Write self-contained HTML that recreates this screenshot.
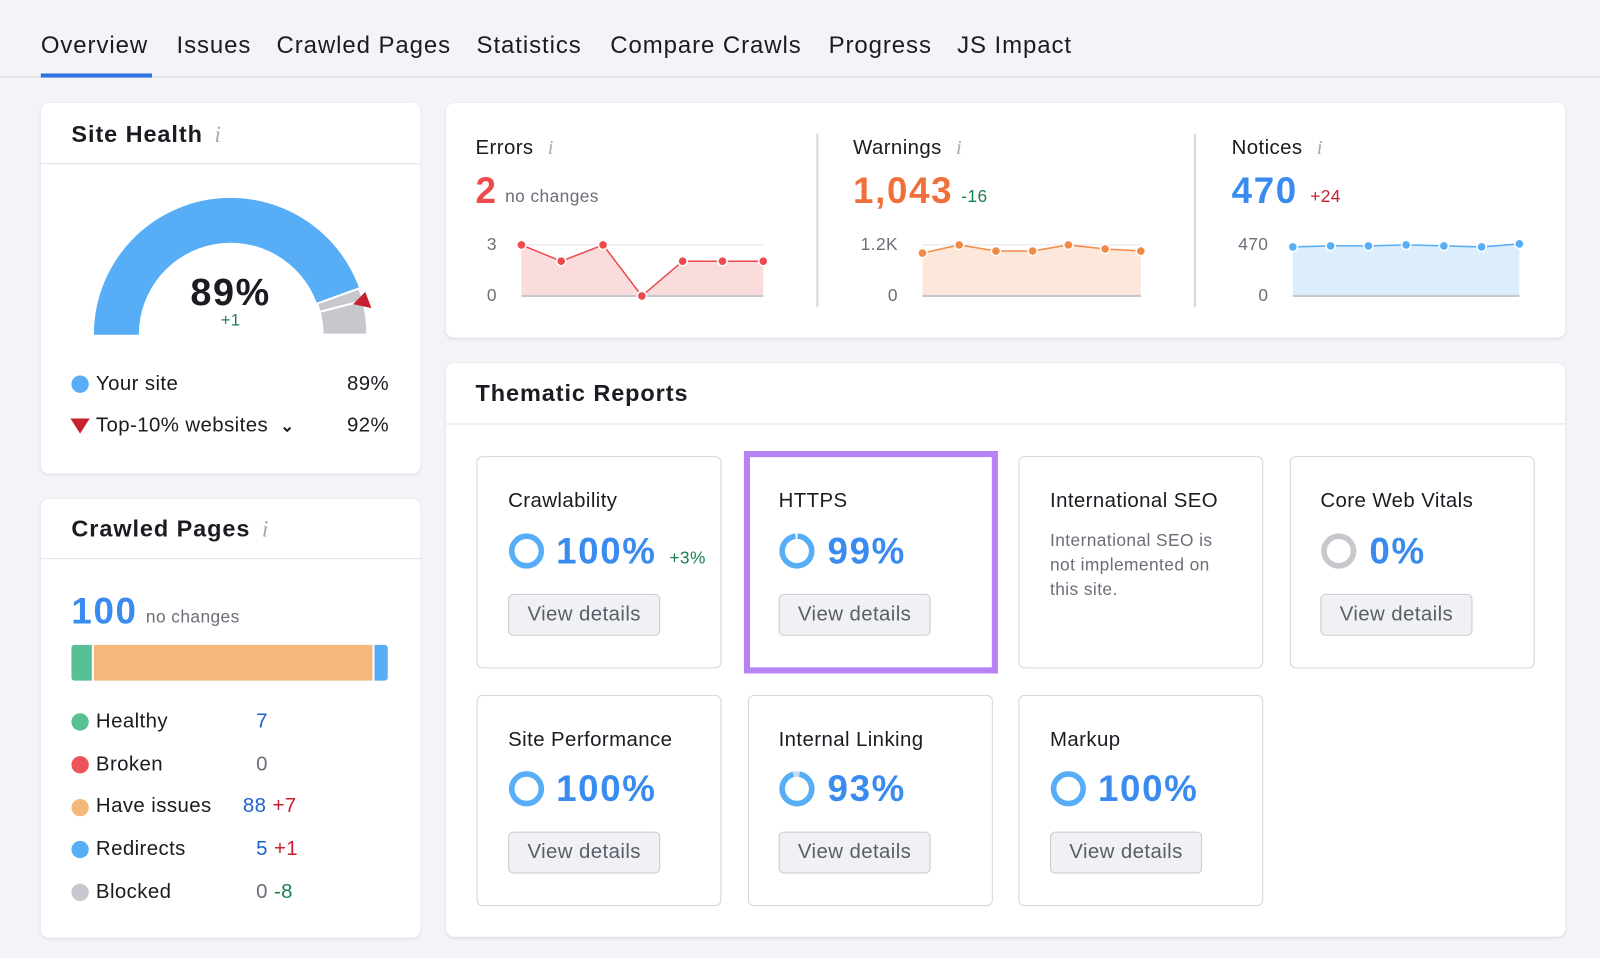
<!DOCTYPE html>
<html><head><meta charset="utf-8">
<style>
html,body{margin:0;padding:0;background:#f3f4f8;width:1600px;height:958px;overflow:hidden}
#w{position:absolute;left:0;top:0;width:1568px;height:939px;transform:scale(1.020408);transform-origin:0 0;font-family:"Liberation Sans",sans-serif;color:#1b1c22;letter-spacing:0.4px}
.a{position:absolute;white-space:nowrap;line-height:1}
.card{position:absolute;background:#fff;border-radius:8px;box-shadow:0 1px 3px rgba(0,0,0,.10)}
.hl{position:absolute;height:1px;background:#e0e1e6}
.info{color:#a7a9b3;font-style:italic;font-family:"Liberation Serif",serif}
.tc{position:absolute;background:#fff;border:1.5px solid #d4d6dc;border-radius:6px;box-sizing:border-box}
.btn{position:absolute;border:1.5px solid #c9cbd2;background:#f0f1f4;border-radius:5px;color:#5b5e69;font-size:20px;box-sizing:border-box;text-align:center;line-height:38px;width:149px;height:41px}
.dot{position:absolute;width:17px;height:17px;border-radius:50%}
.t{font-size:23px;font-weight:bold;letter-spacing:0.9px}
.big{font-size:36px;font-weight:bold;letter-spacing:1.6px}
.tab{font-size:23.5px;letter-spacing:0.9px;top:33px}
</style></head><body><div id="w">
<!-- tabs -->
<div class="a tab" style="left:40px">Overview</div>
<div class="a tab" style="left:173px">Issues</div>
<div class="a tab" style="left:271px">Crawled Pages</div>
<div class="a tab" style="left:467px">Statistics</div>
<div class="a tab" style="left:598px">Compare Crawls</div>
<div class="a tab" style="left:812px">Progress</div>
<div class="a tab" style="left:938px">JS Impact</div>
<div style="position:absolute;left:0;top:75px;width:1568px;height:1px;background:#d6d8de"></div>
<div style="position:absolute;left:40px;top:72px;width:109px;height:4px;background:#2f73e0"></div>

<!-- Site health -->
<div class="card" style="left:40px;top:101px;width:372px;height:363px"></div>
<div class="a t" style="left:70px;top:120px">Site Health <span class="info" style="font-weight:normal;margin-left:4px">i</span></div>
<div class="hl" style="left:40px;top:160px;width:372px"></div>
<svg style="position:absolute;left:0;top:0" width="420" height="470">
<path d="M92 328 A134 134 0 0 1 352.1 282.6 L310.7 297.5 A90 90 0 0 0 136 328 Z" fill="#58aef6"/>
<path d="M352.1 282.6 A134 134 0 0 1 355.8 294.7 L313.2 305.6 A90 90 0 0 0 310.7 297.5 Z" fill="#c6c8ce" stroke="#fff" stroke-width="2"/>
<path d="M355.8 294.7 A134 134 0 0 1 360 328 L316 328 A90 90 0 0 0 313.2 305.6 Z" fill="#c6c8ce" stroke="#fff" stroke-width="2"/>
<polygon points="346,298 358,286 364,302" fill="#c8202f"/>
</svg>
<div class="a big" style="left:0;width:452px;text-align:center;top:268px;font-size:37px">89%</div>
<div class="a" style="left:0;width:452px;text-align:center;top:307px;font-size:16px;color:#1a7f4e">+1</div>
<div class="dot" style="left:70px;top:368px;background:#58aef6"></div>
<div class="a" style="left:94px;top:366px;font-size:20px">Your site</div>
<div class="a" style="left:340px;top:366px;font-size:20px">89%</div>
<svg style="position:absolute;left:69px;top:410px" width="20" height="16"><polygon points="0,0 19,0 9.5,15" fill="#c8202f"/></svg>
<div class="a" style="left:94px;top:407px;font-size:20px">Top-10% websites <span style="font-size:16px;font-weight:bold;margin-left:6px">&#8964;</span></div>
<div class="a" style="left:340px;top:407px;font-size:20px">92%</div>

<!-- Crawled pages -->
<div class="card" style="left:40px;top:489px;width:372px;height:430px"></div>
<div class="a t" style="left:70px;top:507px">Crawled Pages <span class="info" style="font-weight:normal;margin-left:4px">i</span></div>
<div class="hl" style="left:40px;top:547px;width:372px"></div>
<div class="a big" style="left:70px;top:581px;color:#3a8bef">100</div>
<div class="a" style="left:143px;top:596px;font-size:17px;color:#6b6e78">no changes</div>
<div style="position:absolute;left:70px;top:632px;width:20px;height:35px;background:#58c095;border-radius:3px 0 0 3px"></div>
<div style="position:absolute;left:92px;top:632px;width:273px;height:35px;background:#f4b87a"></div>
<div style="position:absolute;left:367px;top:632px;width:13px;height:35px;background:#58aef6;border-radius:0 3px 3px 0"></div>
<div class="dot" style="left:70px;top:699px;background:#58c095"></div><div class="a" style="left:94px;top:697px;font-size:20px">Healthy</div><div class="a" style="left:251px;top:697px;font-size:20px;color:#1e63c8">7</div>
<div class="dot" style="left:70px;top:741px;background:#ec5459"></div><div class="a" style="left:94px;top:739px;font-size:20px">Broken</div><div class="a" style="left:251px;top:739px;font-size:20px;color:#6b6e78">0</div>
<div class="dot" style="left:70px;top:783px;background:#f4b87a"></div><div class="a" style="left:94px;top:780px;font-size:20px">Have issues</div><div class="a" style="left:238px;top:780px;font-size:20px;color:#1e63c8">88 <span style="color:#c8202f">+7</span></div>
<div class="dot" style="left:70px;top:824px;background:#58aef6"></div><div class="a" style="left:94px;top:822px;font-size:20px">Redirects</div><div class="a" style="left:251px;top:822px;font-size:20px;color:#1e63c8">5 <span style="color:#c8202f">+1</span></div>
<div class="dot" style="left:70px;top:866px;background:#c6c8ce"></div><div class="a" style="left:94px;top:864px;font-size:20px">Blocked</div><div class="a" style="left:251px;top:864px;font-size:20px;color:#6b6e78">0 <span style="color:#1a7f4e">-8</span></div>

<!-- Issues card -->
<div class="card" style="left:437px;top:101px;width:1097px;height:230px"></div>
<div style="position:absolute;left:800px;top:131px;width:2px;height:170px;background:#d6d8de"></div>
<div style="position:absolute;left:1170px;top:131px;width:2px;height:170px;background:#d6d8de"></div>
<div class="a" style="left:466px;top:135px;font-size:20px">Errors <span class="info" style="margin-left:8px">i</span></div>
<div class="a big" style="left:466px;top:169px;color:#ec4a4f">2</div>
<div class="a" style="left:495px;top:184px;font-size:17px;color:#6b6e78">no changes</div>
<div class="a" style="left:836px;top:135px;font-size:20px">Warnings <span class="info" style="margin-left:8px">i</span></div>
<div class="a big" style="left:836px;top:169px;color:#f0703a">1,043</div>
<div class="a" style="left:942px;top:184px;font-size:17px;color:#1a7f4e">-16</div>
<div class="a" style="left:1207px;top:135px;font-size:20px">Notices <span class="info" style="margin-left:8px">i</span></div>
<div class="a big" style="left:1207px;top:169px;color:#3a8bef">470</div>
<div class="a" style="left:1284px;top:184px;font-size:17px;color:#c8202f">+24</div>
<svg style="position:absolute;left:0;top:0" width="1568" height="330" font-family="Liberation Sans" font-size="17" fill="#6b6e78">
<text x="487" y="245" text-anchor="end">3</text><text x="487" y="295" text-anchor="end">0</text>
<line x1="511" y1="240" x2="748" y2="240" stroke="#e2e3e8"/>
<polygon points="511,240 550,256 591,240 629,290 669,256 708,256 748,256 748,290 511,290" fill="#fbdcdc"/>
<line x1="511" y1="290" x2="748" y2="290" stroke="#c6c8ce" stroke-width="2"/>
<polyline points="511,240 550,256 591,240 629,290 669,256 708,256 748,256" fill="none" stroke="#ec4a4f" stroke-width="1.5"/>
<g fill="#ec4a4f" stroke="#fff" stroke-width="1.5"><circle cx="511" cy="240" r="4.5"/><circle cx="550" cy="256" r="4.5"/><circle cx="591" cy="240" r="4.5"/><circle cx="629" cy="290" r="4.5"/><circle cx="669" cy="256" r="4.5"/><circle cx="708" cy="256" r="4.5"/><circle cx="748" cy="256" r="4.5"/></g>
<text x="880" y="245" text-anchor="end">1.2K</text><text x="880" y="295" text-anchor="end">0</text>
<line x1="904" y1="240" x2="1118" y2="240" stroke="#e2e3e8"/>
<polygon points="904,248 940,240 976,246 1012,246 1047,240 1083,244 1118,246 1118,290 904,290" fill="#fce7da"/>
<line x1="904" y1="290" x2="1118" y2="290" stroke="#c6c8ce" stroke-width="2"/>
<polyline points="904,248 940,240 976,246 1012,246 1047,240 1083,244 1118,246" fill="none" stroke="#f28a45" stroke-width="1.5"/>
<g fill="#f28a45" stroke="#fff" stroke-width="1.5"><circle cx="904" cy="248" r="4.5"/><circle cx="940" cy="240" r="4.5"/><circle cx="976" cy="246" r="4.5"/><circle cx="1012" cy="246" r="4.5"/><circle cx="1047" cy="240" r="4.5"/><circle cx="1083" cy="244" r="4.5"/><circle cx="1118" cy="246" r="4.5"/></g>
<text x="1243" y="245" text-anchor="end">470</text><text x="1243" y="295" text-anchor="end">0</text>
<polygon points="1267,242 1304,241 1341,241 1378,240 1415,241 1452,242 1489,239 1489,290 1267,290" fill="#dcedfc"/>
<line x1="1267" y1="290" x2="1489" y2="290" stroke="#c6c8ce" stroke-width="2"/>
<polyline points="1267,242 1304,241 1341,241 1378,240 1415,241 1452,242 1489,239" fill="none" stroke="#58aef6" stroke-width="1.5"/>
<g fill="#58aef6" stroke="#fff" stroke-width="1.5"><circle cx="1267" cy="242" r="4.5"/><circle cx="1304" cy="241" r="4.5"/><circle cx="1341" cy="241" r="4.5"/><circle cx="1378" cy="240" r="4.5"/><circle cx="1415" cy="241" r="4.5"/><circle cx="1452" cy="242" r="4.5"/><circle cx="1489" cy="239" r="4.5"/></g>
</svg>

<!-- Thematic -->
<div class="card" style="left:437px;top:356px;width:1097px;height:562px"></div>
<div class="a t" style="left:466px;top:374px">Thematic Reports</div>
<div class="hl" style="left:437px;top:415px;width:1097px"></div>

<div class="tc" style="left:467px;top:447px;width:240px;height:208px"></div>
<div style="position:absolute;left:729px;top:442px;width:249px;height:218px;border:6px solid #b583f3;box-sizing:border-box;background:#fff"></div>
<div class="tc" style="left:998px;top:447px;width:240px;height:208px"></div>
<div class="tc" style="left:1264px;top:447px;width:240px;height:208px"></div>
<div class="tc" style="left:467px;top:681px;width:240px;height:207px"></div>
<div class="tc" style="left:733px;top:681px;width:240px;height:207px"></div>
<div class="tc" style="left:998px;top:681px;width:240px;height:207px"></div>

<div class="a" style="left:498px;top:481px;font-size:20px">Crawlability</div>
<div class="a" style="left:763px;top:481px;font-size:20px">HTTPS</div>
<div class="a" style="left:1029px;top:481px;font-size:20px">International SEO</div>
<div class="a" style="left:1029px;top:518px;font-size:17px;color:#6b6e78;line-height:24px;white-space:normal;width:178px">International SEO is not implemented on this site.</div>
<div class="a" style="left:1294px;top:481px;font-size:20px">Core Web Vitals</div>
<div class="a" style="left:498px;top:715px;font-size:20px">Site Performance</div>
<div class="a" style="left:763px;top:715px;font-size:20px">Internal Linking</div>
<div class="a" style="left:1029px;top:715px;font-size:20px">Markup</div>

<svg style="position:absolute;left:0;top:0" width="1568" height="939">
<g fill="none" stroke-width="5.5">
<circle cx="516" cy="540" r="14.5" stroke="#58aef6"/>
<circle cx="781" cy="540" r="14.5" stroke="#58aef6" stroke-dasharray="89 2" transform="rotate(-88 781 540)"/>
<circle cx="1312" cy="540" r="14.5" stroke="#c6c8ce"/>
<circle cx="516" cy="773" r="14.5" stroke="#58aef6"/>
<circle cx="781" cy="773" r="14.5" stroke="#c6dff8"/>
<circle cx="781" cy="773" r="14.5" stroke="#58aef6" stroke-dasharray="84.7 6.4" transform="rotate(-80 781 773)"/>
<circle cx="1047" cy="773" r="14.5" stroke="#58aef6"/>
</g></svg>
<div class="a big" style="left:545px;top:522px;color:#3a8bef">100%</div>
<div class="a" style="left:656px;top:538px;font-size:17px;color:#1a7f4e">+3%</div>
<div class="a big" style="left:811px;top:522px;color:#3a8bef">99%</div>
<div class="a big" style="left:1342px;top:522px;color:#3a8bef">0%</div>
<div class="a big" style="left:545px;top:755px;color:#3a8bef">100%</div>
<div class="a big" style="left:811px;top:755px;color:#3a8bef">93%</div>
<div class="a big" style="left:1076px;top:755px;color:#3a8bef">100%</div>

<div class="btn" style="left:498px;top:582px">View details</div>
<div class="btn" style="left:763px;top:582px">View details</div>
<div class="btn" style="left:1294px;top:582px">View details</div>
<div class="btn" style="left:498px;top:815px">View details</div>
<div class="btn" style="left:763px;top:815px">View details</div>
<div class="btn" style="left:1029px;top:815px">View details</div>
</div></body></html>
